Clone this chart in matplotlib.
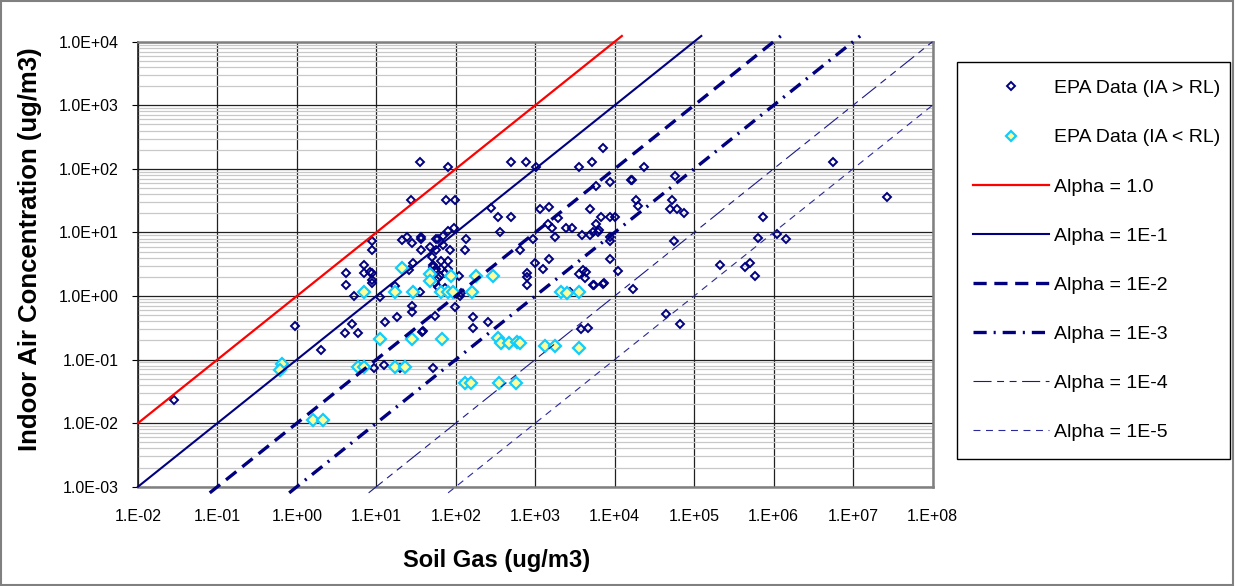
import numpy as np
import matplotlib
matplotlib.use("Agg")
import matplotlib.pyplot as plt
from matplotlib.patches import Rectangle
from matplotlib.ticker import FixedLocator, FuncFormatter, NullLocator

plt.rcParams["font.family"] = ["Liberation Sans", "DejaVu Sans"]
plt.rcParams["lines.scale_dashes"] = False

# EPA data where indoor air is above the reporting limit (soil gas, indoor air in ug/m3)
above_sg = [0.028, 0.95, 2.0, 4.2, 4.2, 6.9, 6.9, 8.3, 8.9, 8.9,
            8.9, 5.2, 4.9, 4.0, 5.9, 11, 13, 18, 9.4, 12.5,
            20, 28, 28, 38, 39, 51, 98, 112, 116, 166,
            166, 257, 1000, 780, 780, 780, 1260, 8.9, 8.9, 21,
            24, 28, 36, 37, 36, 29, 26, 17, 35, 35,
            27, 47, 57, 50, 52, 57, 60, 55, 80, 75,
            98, 490, 760, 1020, 275, 343, 490, 365, 136, 130,
            96, 80, 69, 60, 57, 69, 85, 52, 66, 80,
            66, 80, 73, 64, 110, 645, 945, 60, 73, 166,
            5400, 7060, 2750, 55, 3800, 4650, 7200, 3590, 5130, 23500,
            16000, 16300, 57500, 5800, 8700, 18600, 19500, 52000, 50000, 60000,
            74000, 1150, 1500, 4900, 1950, 1460, 1620, 2430, 2880, 6800,
            8700, 10000, 5900, 3900, 4900, 5400, 6200, 6400, 1780, 8700,
            8700, 55000, 1500, 8700, 4000, 4350, 3590, 4200, 11000, 16800,
            2.14e5, 5.6e6, 2.7e7, 7.4e5, 6.3e5, 1.1e6, 1.42e6, 4.4e5, 5.1e5, 5.75e5,
            44000, 67000, 5500, 7300]
above_ia = [0.023, 0.34, 0.143, 2.3, 1.47, 3.07, 2.3, 2.35, 2.3, 1.8,
            1.58, 1.0, 0.36, 0.26, 0.26, 0.98, 0.39, 0.47, 0.074, 0.083,
            0.073, 0.70, 0.55, 0.27, 0.28, 0.073, 0.68, 1.0, 1.1, 0.47,
            0.31, 0.39, 3.27, 2.27, 2.0, 1.5, 2.7, 7.3, 5.2, 7.6,
            8.4, 6.7, 8.4, 8.0, 5.2, 3.3, 2.6, 1.45, 1.17, 129,
            32, 6.0, 7.8, 4.05, 3.07, 2.7, 1.9, 1.58, 106, 32,
            32, 129, 129, 106, 24, 17.3, 17.3, 10.2, 7.9, 5.2,
            11.9, 10.5, 8.7, 8.0, 5.2, 6.3, 5.2, 2.9, 3.5, 3.5,
            2.7, 2.7, 2.27, 2.1, 2.1, 5.2, 7.9, 1.4, 1.32, 1.17,
            1.49, 1.52, 1.14, 0.48, 0.30, 0.31, 210, 106, 129, 106,
            67, 66, 77, 54, 62, 32, 26, 32, 23, 23,
            20, 23, 25, 23, 16.7, 13.5, 11.6, 11.9, 11.9, 17.7,
            17.7, 17.7, 13.5, 9.1, 9.1, 10.2, 10.2, 11, 8.4, 8.4,
            7.4, 7.4, 3.8, 3.8, 2.6, 2.4, 2.2, 1.9, 2.5, 1.29,
            3.07, 129, 36, 17.3, 8.3, 9.4, 7.9, 2.9, 3.26, 2.06,
            0.53, 0.36, 1.5, 1.58]

# EPA data where indoor air is below the reporting limit
below_sg = [0.65, 0.62, 1.6, 2.1, 6.9, 21, 17, 29, 11, 28,
            68, 5.8, 6.9, 17, 23, 48, 48, 87, 66, 80,
            93, 178, 290, 162, 129, 155, 353, 575, 343, 372,
            468, 585, 645, 1320, 1780, 3550, 2100, 2500, 3590]
below_ia = [0.085, 0.069, 0.0112, 0.0112, 1.14, 2.8, 1.14, 1.14, 0.21, 0.21,
            0.21, 0.077, 0.077, 0.077, 0.077, 2.2, 1.7, 2.1, 1.14, 1.14,
            1.14, 2.08, 2.08, 1.14, 0.043, 0.043, 0.043, 0.043, 0.216, 0.184,
            0.184, 0.19, 0.184, 0.163, 0.163, 0.154, 1.14, 1.1, 1.14]

# attenuation factor lines, IA = alpha * SG
alphas = [1.0, 1e-1, 1e-2, 1e-3, 1e-4, 1e-5]
alpha_labels = ["Alpha = 1.0", "Alpha = 1E-1", "Alpha = 1E-2",
                "Alpha = 1E-3", "Alpha = 1E-4", "Alpha = 1E-5"]
line_colors = ["#ff0000", "#000080", "#000080", "#000080", "#1a1a8a", "#2a2a9a"]
line_widths = [1.6, 1.5, 2.4, 2.4, 0.8, 0.8]
line_styles = ["-", "-", (0, (9.5, 5.5)), (0, (9.5, 5, 1.5, 5)),
               (0, (13, 4, 5, 4, 5, 4)), (0, (5, 4))]

x_exponents = list(range(-2, 9))
y_exponents = list(range(-3, 5))

navy = "#000080"

fig = plt.figure(figsize=(12.35, 5.86), dpi=100)
W, H = 1235, 586
ax = fig.add_axes([138 / W, 1 - 486.7 / H, (932.5 - 138) / W, (486.7 - 41.7) / H])
ax.set_xscale("log")
ax.set_yscale("log")
ax.set_xlim(10.0 ** x_exponents[0], 10.0 ** x_exponents[-1])
ax.set_ylim(10.0 ** y_exponents[0], 10.0 ** y_exponents[-1])

# grid: black decades, grey minor lines on y only
ax.xaxis.set_major_locator(FixedLocator([10.0 ** e for e in x_exponents]))
ax.yaxis.set_major_locator(FixedLocator([10.0 ** e for e in y_exponents]))
ax.xaxis.set_minor_locator(NullLocator())
y_minor = [m * 10.0 ** e for e in y_exponents[:-1] for m in range(2, 10)]
ax.yaxis.set_minor_locator(FixedLocator(y_minor))
ax.grid(which="minor", axis="y", color="#c8c8c8", lw=0.9)
ax.grid(which="major", color="#202020", lw=0.9)
ax.set_axisbelow(True)

ax.xaxis.set_major_formatter(FuncFormatter(lambda v, p: "1.E%+03d" % round(np.log10(v))))
ax.yaxis.set_major_formatter(FuncFormatter(lambda v, p: "1.0E%+03d" % round(np.log10(v))))
ax.tick_params(axis="x", which="both", length=0, pad=16, labelsize=11.5)
ax.tick_params(axis="y", which="major", length=4, direction="out", pad=10, labelsize=11.5)
ax.tick_params(axis="y", which="minor", length=0)

for side in ["top", "right", "bottom"]:
    ax.spines[side].set_color("#808080")
    ax.spines[side].set_linewidth(1.8)
ax.spines["left"].set_color("#202020")
ax.spines["left"].set_linewidth(1.2)

handles = []
h1, = ax.plot(above_sg, above_ia, ls="none", marker="D", ms=4.4, mfc="none",
              mec=navy, mew=1.4, label="EPA Data (IA > RL)", zorder=3)
h2, = ax.plot(below_sg, below_ia, ls="none", marker="D", ms=6.0, mfc="#ffff99",
              mec="#11ccff", mew=1.6, label="EPA Data (IA < RL)", zorder=4)
handles += [h1, h2]

# lines spill a little past the plot frame like the original
y_lo, y_hi = 8e-4, 1.23e4
for a, lab, c, lw, ls in zip(alphas, alpha_labels, line_colors, line_widths, line_styles):
    xs = np.clip([y_lo / a, y_hi / a], 10.0 ** x_exponents[0], 10.0 ** x_exponents[-1])
    ln, = ax.plot(xs, a * xs, color=c, lw=lw, ls=ls, label=lab, clip_on=False, zorder=5)
    handles.append(ln)

# legend entries without frame, box drawn separately so it can be sized freely
leg = fig.legend(handles=handles, loc="upper left", bbox_to_anchor=(962 / W, 1 - 69 / H),
                 fontsize=14, frameon=False, labelspacing=1.62, handlelength=3.9,
                 handletextpad=0.3, borderpad=0.55, borderaxespad=0, numpoints=1,
                 markerscale=0.85)
fig.patches.append(Rectangle((957 / W, 1 - 459 / H), (1230 - 957) / W, (459 - 62) / H,
                             transform=fig.transFigure, fill=False, ec="black", lw=1.0))

fig.text(497 / W, 1 - 560 / H, "Soil Gas (ug/m3)", ha="center", va="center",
         fontsize=17, fontweight="bold")
fig.text(30 / W, 1 - 249 / H, "Indoor Air Concentration (ug/m3)", ha="center", va="center",
         rotation=90, fontsize=18.5, fontweight="bold")

# chart area border
fig.patches.append(Rectangle((0.0005, 0.001), 0.998, 0.997, transform=fig.transFigure,
                             fill=False, ec="#808080", lw=1.5))

plt.savefig("out.png", dpi=100)
